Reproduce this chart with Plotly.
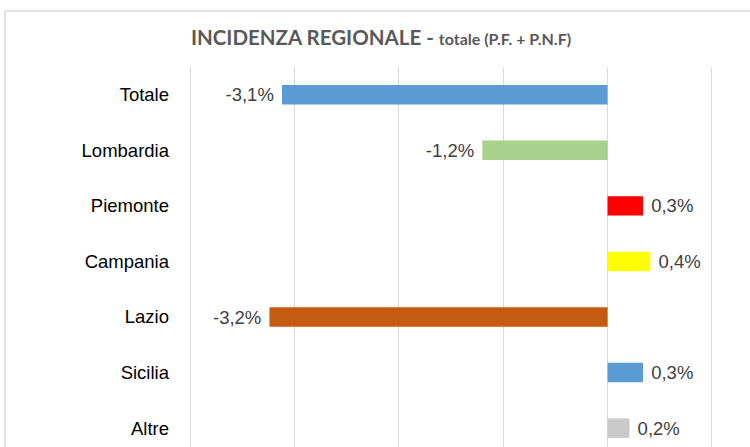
import plotly.graph_objects as go

categories = ["Totale", "Lombardia", "Piemonte", "Campania", "Lazio", "Sicilia", "Altre"]
values = [-3.12, -1.20, 0.34, 0.41, -3.24, 0.34, 0.21]
colors = ["#5B9BD5", "#A9D18E", "#FF0000", "#FFFF00", "#C55A11", "#5B9BD5", "#C9C9C9"]

LABEL_FONT = "Liberation Sans, Arial, sans-serif"
TITLE_FONT = "Lato, Liberation Sans, sans-serif"

def fmt(v):
    s = f"{v:.1f}".replace(".", ",") + "%"
    return s + "\u00a0" if v < 0 else "\u00a0" + s

W, H = 750, 447
L, R, T, B = 178, 714, 67, 447

fig = go.Figure(go.Bar(
    x=values, y=categories, orientation="h",
    marker=dict(color=colors, line=dict(width=0)),
    width=0.35,
    text=[fmt(v) for v in values], textposition="outside",
    constraintext="none",
    textfont=dict(family=LABEL_FONT, size=18.5, color="#404040"),
    cliponaxis=False,
    hoverinfo="skip",
))

px = lambda p: (p - L) / (R - L)
py = lambda p: (B - p) / (B - T)

fig.update_layout(
    width=W, height=H,
    margin=dict(l=L, r=W - R, t=T, b=H - B, pad=0),
    paper_bgcolor="white", plot_bgcolor="white",
    showlegend=False,
    title=dict(
        text="<b>INCIDENZA REGIONALE - <span style='font-size:16px'>totale (P.F. + P.N.F)</span></b>",
        x=381 / W, xanchor="center", y=1 - 38 / H, yanchor="middle",
        font=dict(family=TITLE_FONT, size=20.5, color="#595959"),
    ),
    xaxis=dict(range=[-4.1164, 1.02], dtick=1, tick0=0, showgrid=True,
               gridcolor="#D9D9D9", gridwidth=1.3, zeroline=False,
               showticklabels=False, showline=False, fixedrange=True),
    yaxis=dict(type="category", range=[6.34, -0.5], showgrid=False,
               ticks="", tickfont=dict(family=LABEL_FONT, size=18.5, color="#000000"),
               ticklabelstandoff=8,
               showline=False, zeroline=False, fixedrange=True),
    shapes=[
        dict(type="line", xref="paper", yref="paper", x0=px(5), x1=px(760),
             y0=py(11), y1=py(11), line=dict(color="#D9D9D9", width=1.5)),
        dict(type="line", xref="paper", yref="paper", x0=px(5), x1=px(5),
             y0=py(11), y1=py(460), line=dict(color="#D9D9D9", width=1.5)),
    ],
)

fig.write_html("out.html", config={"displayModeBar": False},
               post_script="document.body.style.margin='0';document.body.style.overflow='hidden';")
